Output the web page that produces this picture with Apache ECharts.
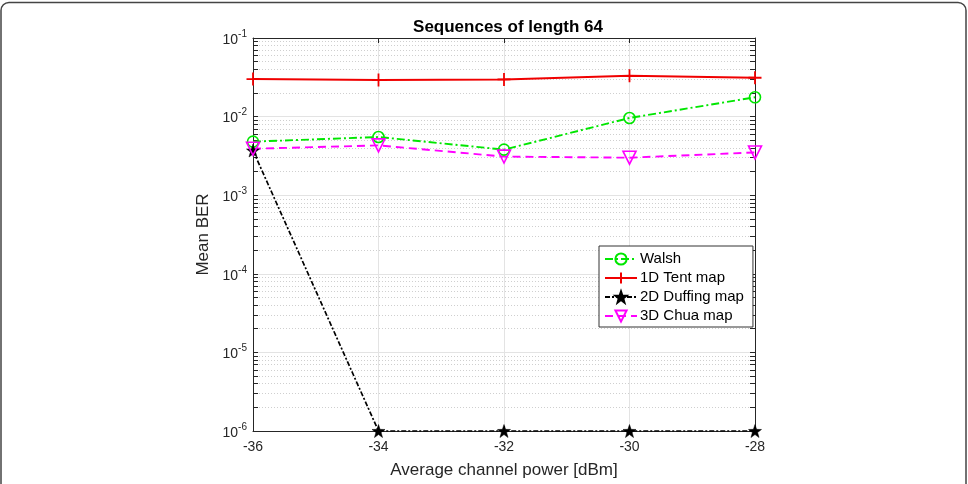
<!DOCTYPE html>
<html>
<head>
<meta charset="utf-8">
<script src="https://cdn.jsdelivr.net/npm/echarts@6/dist/echarts.min.js"></script>
<style>html,body{margin:0;padding:0;background:#fff;}#c{width:968px;height:484px;}</style>
</head>
<body>
<div id="c"></div>
<script>
var xValues = [-36, -34, -32, -30, -28];
var walsh = [0.0048, 0.0055, 0.0038, 0.0096, 0.0176];
var tent = [0.0300, 0.0292, 0.0297, 0.0330, 0.0312];
var duffing = [0.0037, 1e-6, 1e-6, 1e-6, 1e-6];
var chua = [0.0039, 0.0043, 0.0031, 0.0030, 0.0035];
var seriesNames = ['Walsh', '1D Tent map', '2D Duffing map', '3D Chua map'];
var yTickExponents = ['-6', '-5', '-4', '-3', '-2', '-1'];
var xTickLabels = ['-36', '-34', '-32', '-30', '-28'];

function pairs(arr) { return xValues.map(function (x, i) { return [x, arr[i]]; }); }

var minorVals = [];
for (var k = -6; k <= -2; k++) {
  for (var m = 2; m <= 9; m++) minorVals.push(m * Math.pow(10, k));
}
var minorGrid = minorVals.map(function (v) { return [{ coord: [-36, v] }, { coord: [-28, v] }]; });
var minorTicks = [];
minorVals.forEach(function (v) {
  minorTicks.push([{ coord: [-36, v] }, { coord: [-35.92, v] }]);
  minorTicks.push([{ coord: [-28, v] }, { coord: [-28.08, v] }]);
});

var starPath = 'path://M0,-10L2.35,-3.24L9.51,-3.09L3.8,1.24L5.88,8.09L0,4L-5.88,8.09L-3.8,1.24L-9.51,-3.09L-2.35,-3.24Z';
var plusPath = 'path://M0,-10L0,10M-10,0L10,0';
var triPath = 'path://M-10,-9L10,-9L0,9Z';

var font = 'Liberation Sans, Arial, Helvetica, sans-serif';
var axisColor = '#262626';

var chart = echarts.init(document.getElementById('c'), null, { renderer: 'canvas' });
chart.setOption({
  animation: false,
  backgroundColor: '#fff',
  textStyle: { fontFamily: font },
  title: {
    text: 'Sequences of length 64',
    left: 503, top: 14, textAlign: 'center',
    textStyle: { fontFamily: font, fontWeight: 'bold', fontSize: 17, color: '#000' }
  },
  graphic: [{
    type: 'rect', silent: true, z: -10,
    shape: { x: 1, y: 2.5, width: 965, height: 520, r: 8 },
    style: { fill: 'none', stroke: '#444', lineWidth: 1.5 }
  }],
  grid: { left: 253, right: 213, top: 38, bottom: 51, containLabel: false },
  legend: {
    data: seriesNames,
    orient: 'vertical',
    left: 599, top: 246, z: 20,
    padding: [5, 9, 3, 5],
    itemGap: 3,
    itemWidth: 32, itemHeight: 14,
    backgroundColor: '#fff',
    borderColor: '#333', borderWidth: 1, borderRadius: 0,
    textStyle: { fontFamily: font, fontSize: 15, color: '#000', padding: [0, 0, 0, -2], lineHeight: 16 }
  },
  xAxis: [{
    type: 'value', min: -36, max: -28, interval: 2,
    name: 'Average channel power [dBm]', nameLocation: 'middle', nameGap: 31,
    nameTextStyle: { fontFamily: font, fontSize: 17, color: '#262626' },
    axisLine: { show: true, lineStyle: { color: axisColor, width: 1 } },
    axisTick: { show: true, inside: true, length: 5, lineStyle: { color: axisColor } },
    axisLabel: {
      fontFamily: font, fontSize: 14, color: '#262626', margin: 9,
      formatter: function (v) { var i = xValues.indexOf(v); return i >= 0 ? xTickLabels[i] : ''; }
    },
    splitLine: { show: true, lineStyle: { color: '#e3e3e3', width: 1 } }
  }, {
    type: 'value', min: -36, max: -28, interval: 2, position: 'top',
    axisLine: { show: true, lineStyle: { color: axisColor, width: 1 } },
    axisTick: { show: true, inside: true, length: 5, lineStyle: { color: axisColor } },
    axisLabel: { show: false }, splitLine: { show: false }
  }],
  yAxis: [{
    type: 'log', logBase: 10, min: 1e-6, max: 1e-1,
    name: 'Mean BER', nameLocation: 'middle', nameGap: 37,
    nameTextStyle: { fontFamily: font, fontSize: 17, color: '#262626' },
    axisLine: { show: true, lineStyle: { color: axisColor, width: 1 } },
    axisTick: { show: true, inside: true, length: 5, lineStyle: { color: axisColor } },
    axisLabel: {
      fontFamily: font, margin: 6,
      formatter: function (v) {
        var e = Math.round(Math.log10(v));
        var idx = yTickExponents.indexOf(String(e));
        return '{b|10}{s|' + (idx >= 0 ? yTickExponents[idx] : e) + '}';
      },
      rich: {
        b: { fontFamily: font, fontSize: 14, color: '#262626', verticalAlign: 'bottom', lineHeight: 18 },
        s: { fontFamily: font, fontSize: 10, color: '#262626', verticalAlign: 'top', lineHeight: 18, padding: [0, 0, 8, 0] }
      }
    },
    splitLine: { show: true, lineStyle: { color: '#e3e3e3', width: 1 } }
  }, {
    type: 'log', logBase: 10, min: 1e-6, max: 1e-1, position: 'right',
    axisLine: { show: true, lineStyle: { color: axisColor, width: 1 } },
    axisTick: { show: true, inside: true, length: 5, lineStyle: { color: axisColor } },
    axisLabel: { show: false }, splitLine: { show: false }
  }],
  series: [{
    type: 'line', name: 'grid', data: [], z: 1, silent: true,
    markLine: {
      z: 1,
      silent: true, symbol: ['none', 'none'], label: { show: false }, animation: false,
      lineStyle: { color: '#cfcfcf', width: 1, type: [1, 2] },
      emphasis: { disabled: true },
      data: minorGrid
    }
  }, {
    type: 'line', name: 'ticks', data: [], z: 3, silent: true,
    markLine: {
      z: 3,
      silent: true, symbol: ['none', 'none'], label: { show: false }, animation: false,
      lineStyle: { color: axisColor, width: 1, type: 'solid' },
      emphasis: { disabled: true },
      data: minorTicks
    }
  }, {
    type: 'line', name: seriesNames[0], data: pairs(walsh), z: 5,
    symbol: 'circle', symbolSize: 11,
    lineStyle: { color: '#00e600', width: 1.9, type: [8, 3, 2, 3] },
    itemStyle: { color: 'rgba(0,0,0,0)', borderColor: '#00e600', borderWidth: 1.6 }
  }, {
    type: 'line', name: seriesNames[1], data: pairs(tent), z: 5,
    symbol: plusPath, symbolSize: 13,
    lineStyle: { color: '#f00000', width: 2 },
    itemStyle: { color: '#f00000', borderColor: '#f00000', borderWidth: 1.8 }
  }, {
    type: 'line', name: seriesNames[2], data: pairs(duffing), z: 5,
    symbol: starPath, symbolSize: 13,
    lineStyle: { color: '#000', width: 1.7, type: [5, 2, 2, 2] },
    itemStyle: { color: '#000', borderColor: '#000', borderWidth: 0.5 }
  }, {
    type: 'line', name: seriesNames[3], data: pairs(chua), z: 5,
    symbol: triPath, symbolSize: 13,
    lineStyle: { color: '#ff00ff', width: 1.9, type: [8, 5] },
    itemStyle: { color: 'rgba(0,0,0,0)', borderColor: '#ff00ff', borderWidth: 1.6 }
  }]
});
</script>
</body>
</html>
